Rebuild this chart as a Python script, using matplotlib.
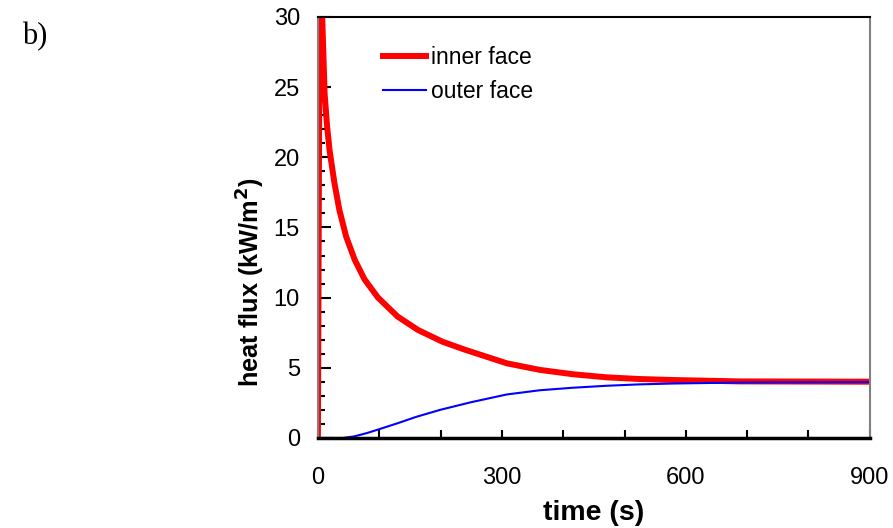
import matplotlib
matplotlib.use("Agg")
import matplotlib.pyplot as plt
from matplotlib.ticker import MultipleLocator

plt.rcParams['font.family'] = ['Liberation Sans', 'DejaVu Sans']

# heat flux history at the two faces
t_inner = [0, 4, 7, 11, 15, 19, 27, 35, 46, 60, 76, 98, 130, 163, 203, 239,
           308, 362, 416, 471, 525, 579, 634, 688, 800, 900]
q_inner = [0, 45, 30, 24.5, 22.2, 20.5, 18.15, 16.25, 14.35, 12.7, 11.3, 10.0, 8.65,
           7.7, 6.86, 6.3, 5.32, 4.85, 4.54, 4.32, 4.2, 4.13, 4.08, 4.03, 4.02, 4.01]

t_outer = [0, 41, 60, 80, 101, 130, 160, 199, 250, 308, 362, 416, 471, 525, 579, 688, 800, 900]
q_outer = [0, 0, 0.12, 0.35, 0.64, 1.05, 1.5, 2.0, 2.55, 3.1, 3.4, 3.58, 3.72, 3.82,
           3.88, 3.95, 3.97, 3.98]

x_labels = [0, 300, 600, 900]
y_labels = [0, 5, 10, 15, 20, 25, 30]

fig = plt.figure(figsize=(8.93, 5.28), dpi=100)
ax = fig.add_axes([0.356, 0.1705, 0.618, 0.7975])

ax.plot(t_inner, q_inner, color='#ff0000', lw=4.3, label='inner face',
        solid_joinstyle='round')
ax.plot(t_outer, q_outer, color='#0000ff', lw=1.5, label='outer face',
        solid_joinstyle='round')

ax.set_xlim(0, 900)
ax.set_ylim(0, 30)
ax.set_xticks(x_labels)
ax.set_yticks(y_labels)
ax.xaxis.set_minor_locator(MultipleLocator(100))
ax.yaxis.set_minor_locator(MultipleLocator(1))

ax.tick_params(axis='x', which='both', direction='in', length=6, width=1.5,
               pad=21, labelsize=17, top=False)
ax.tick_params(axis='y', which='major', direction='in', length=9, width=1.5,
               pad=13, labelsize=17, right=False)
ax.tick_params(axis='y', which='minor', direction='in', length=5, width=1.5, right=False)

for side in ['left', 'right']:
    ax.spines[side].set_color('#808080')
    ax.spines[side].set_linewidth(1.5)
ax.spines['top'].set_linewidth(1.5)
ax.spines['bottom'].set_linewidth(2.5)

ax.set_xlabel('time (s)', fontsize=20.5, fontweight='bold', labelpad=8)
ax.set_ylabel('heat flux (kW/m$^\\mathbf{2}$)', fontsize=18.3, fontweight='bold')
ax.yaxis.set_label_coords(-0.092, 0.37)

ax.legend(loc='upper left', bbox_to_anchor=(0.098, 0.957), frameon=False, fontsize=16.5,
          borderpad=0, handlelength=1.85, handletextpad=0.22, labelspacing=0.45)

fig.text(0.025, 0.93, 'b)', fontsize=22, family=['Liberation Serif'], ha='left', va='center')

fig.savefig('out.png', dpi=100)
